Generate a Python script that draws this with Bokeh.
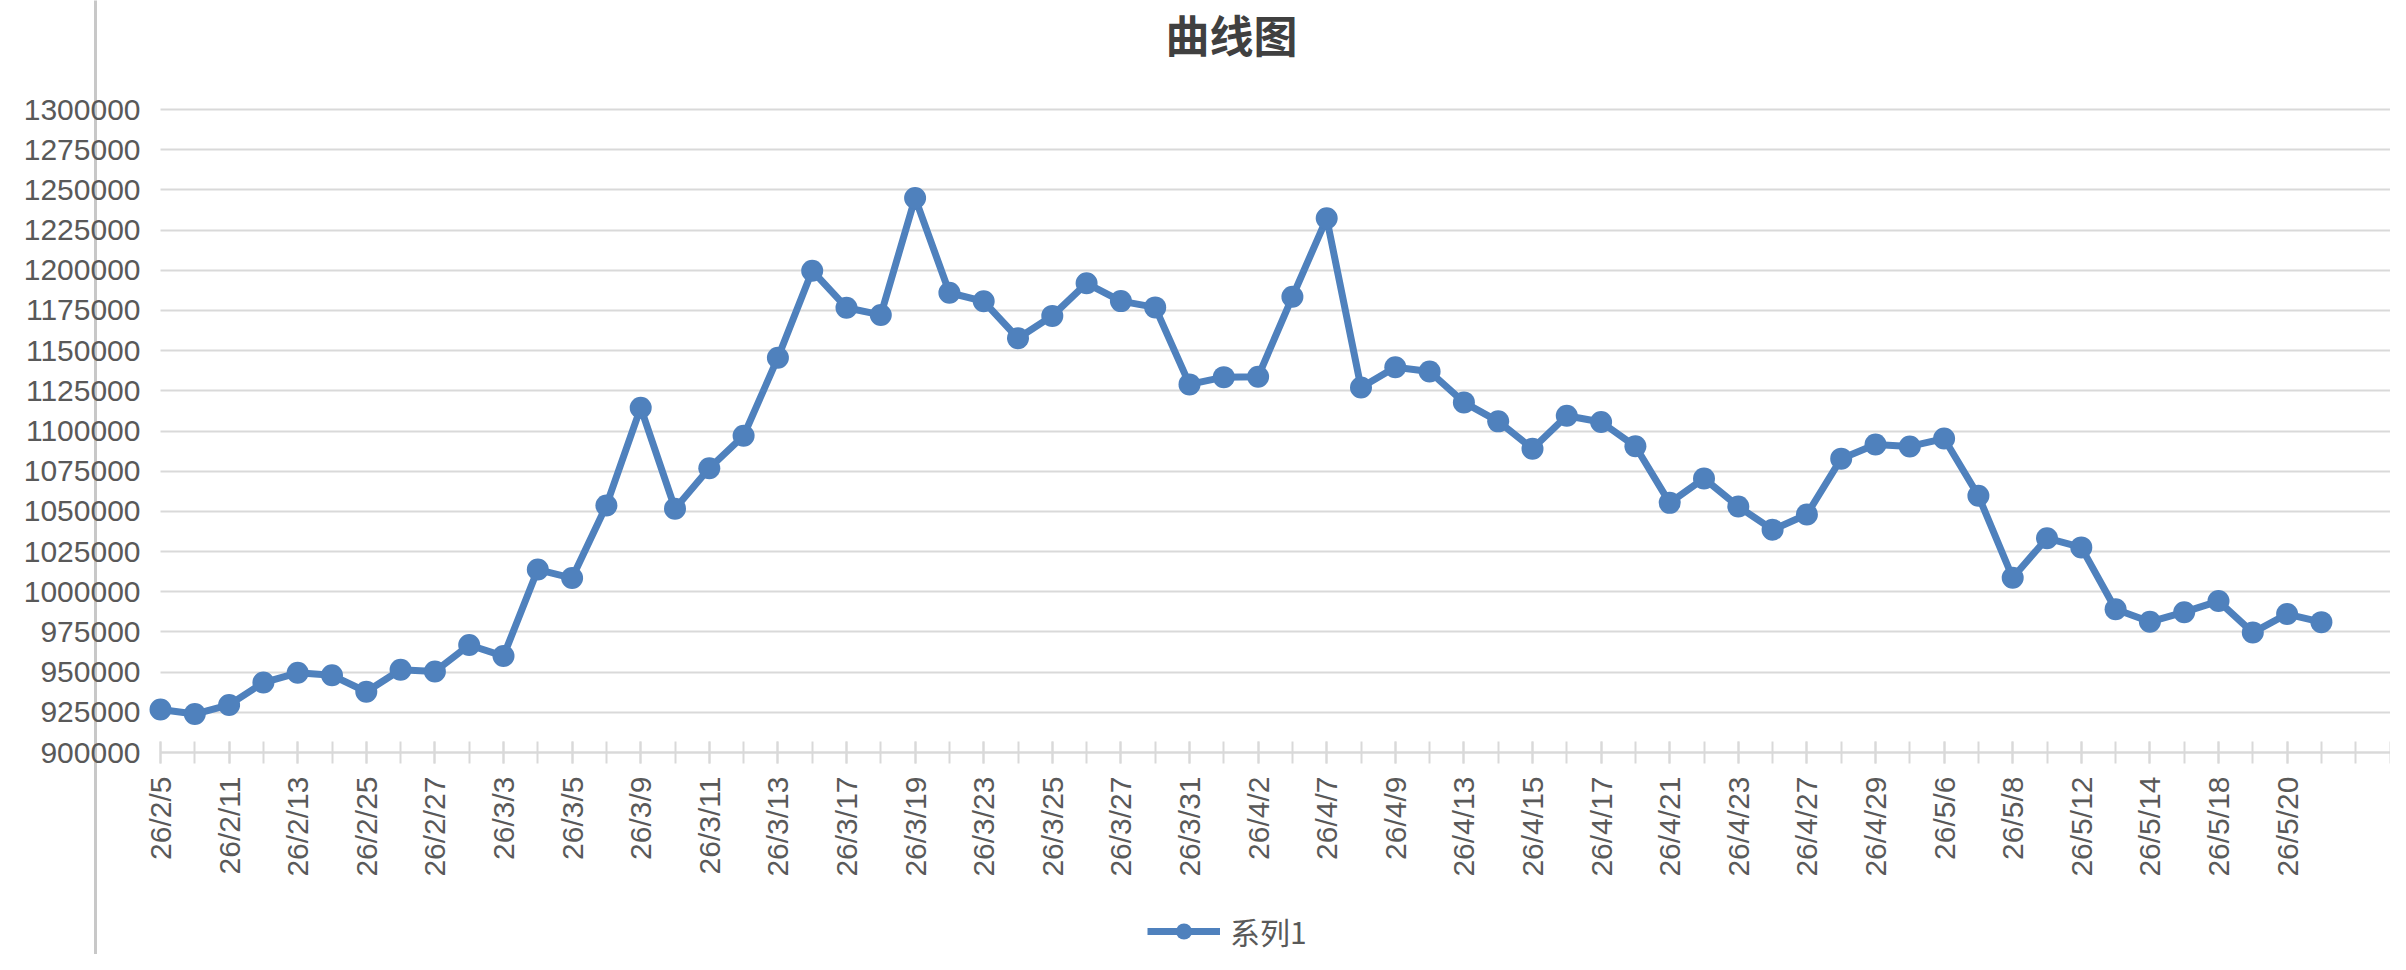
import math
from bokeh.plotting import figure
from bokeh.models import (FixedTicker, BasicTickFormatter, Legend, LegendItem,
                          ColumnDataSource, Label, Range1d, Grid)
from bokeh.embed import file_html
from bokeh.resources import INLINE

# ---------------- data ----------------
dates = [
    "26/2/5", "26/2/10", "26/2/11", "26/2/12", "26/2/13", "26/2/24", "26/2/25", "26/2/26",
    "26/2/27", "26/3/2", "26/3/3", "26/3/4", "26/3/5", "26/3/6", "26/3/9", "26/3/10",
    "26/3/11", "26/3/12", "26/3/13", "26/3/16", "26/3/17", "26/3/18", "26/3/19", "26/3/20",
    "26/3/23", "26/3/24", "26/3/25", "26/3/26", "26/3/27", "26/3/30", "26/3/31", "26/4/1",
    "26/4/2", "26/4/3", "26/4/7", "26/4/8", "26/4/9", "26/4/10", "26/4/13", "26/4/14",
    "26/4/15", "26/4/16", "26/4/17", "26/4/20", "26/4/21", "26/4/22", "26/4/23", "26/4/24",
    "26/4/27", "26/4/28", "26/4/29", "26/4/30", "26/5/6", "26/5/7", "26/5/8", "26/5/11",
    "26/5/12", "26/5/13", "26/5/14", "26/5/15", "26/5/18", "26/5/19", "26/5/20", "26/5/21",
]
values = [
    926800, 923900, 929600, 943500, 949600, 948000, 937800, 951500,
    950400, 966900, 960000, 1013800, 1008500, 1053700, 1114500, 1051700,
    1076800, 1097000, 1145600, 1199700, 1176700, 1172200, 1245000, 1186000,
    1180700, 1157700, 1171600, 1191900, 1180800, 1176900, 1129000, 1133500,
    1133800, 1183500, 1232300, 1127100, 1139600, 1137000, 1117800, 1106000,
    1089000, 1109500, 1105600, 1090500, 1055300, 1070500, 1053000, 1038600,
    1048100, 1082800, 1091600, 1090400, 1095300, 1059700, 1008700, 1033300,
    1027600, 989100, 981300, 987300, 994200, 974600, 986100, 981100,
]
series_name = "系列1"
title_text = "曲线图"
y_min, y_max, y_step = 900000, 1300000, 25000
y_ticks = list(range(y_min, y_max + 1, y_step))
n_slots = 65  # category slots on the axis

x = list(range(len(values)))
src = ColumnDataSource(dict(x=x, y=values, d=dates))

BLUE = "#4f81bd"
GRID = "#d9d9d9"
TXT = "#595959"
RULE = "#c8c8c8"
FONT = "Liberation Sans"

# ---------------- layout (pixels) ----------------
W, H = 2390, 954
frame_left = 95          # gray rule / frame edge
plot_left, plot_top, plot_bottom = 160, 109, 752
slot_px = 34.3
per_px = (y_max - y_min) / (plot_bottom - plot_top)

x_start = -(plot_left - frame_left) / slot_px
x_end = x_start + (W - frame_left) / slot_px
y_top = y_max + plot_top * per_px
y_bot = y_min - (H - plot_bottom) * per_px

p = figure(width=W, height=H, output_backend="svg", toolbar_location=None,
           x_range=Range1d(x_start, x_end), y_range=Range1d(y_bot, y_top),
           min_border=0, min_border_left=frame_left)
p.title = None
p.background_fill_color = "white"
p.border_fill_color = "white"
p.outline_line_color = None

# y axis: its line is the gray rule, labels pulled right across it
yax = p.yaxis[0]
yax.ticker = FixedTicker(ticks=y_ticks)
yax.formatter = BasicTickFormatter(use_scientific=False)
yax.axis_line_color = RULE
yax.axis_line_width = 3
yax.major_tick_line_color = None
yax.minor_tick_line_color = None
yax.major_tick_in = 0
yax.major_tick_out = 0
yax.minor_tick_in = 0
yax.minor_tick_out = 0
yax.major_label_text_font = FONT
yax.major_label_text_font_size = "30px"
yax.major_label_text_color = TXT
yax.major_label_standoff = -45

yg = p.ygrid[0]
yg.ticker = FixedTicker(ticks=y_ticks)
yg.grid_line_color = GRID
yg.grid_line_width = 2
if "cross_bounds" in Grid.properties():
    yg.cross_bounds = (0, x_end)
p.xgrid.grid_line_color = None

# x axis, fixed at the bottom of the value range
xax = p.xaxis[0]
xax.fixed_location = y_min
xax.bounds = (0, x_end)
major = list(range(0, len(values), 2))
xax.ticker = FixedTicker(ticks=major, minor_ticks=list(range(0, n_slots + 1)))
xax.major_label_overrides = {i: dates[i] for i in major}
xax.major_label_orientation = math.pi / 2
xax.major_label_text_font = FONT
xax.major_label_text_font_size = "30px"
xax.major_label_text_color = TXT
xax.major_label_standoff = 13
xax.axis_line_color = GRID
xax.axis_line_width = 2
xax.major_tick_line_color = GRID
xax.major_tick_line_width = 2
xax.major_tick_in = 11
xax.major_tick_out = 11
xax.minor_tick_line_color = GRID
xax.minor_tick_line_width = 2
xax.minor_tick_in = 11
xax.minor_tick_out = 11

# series
ln = p.line("x", "y", source=src, line_color=BLUE, line_width=7, line_join="round")
sc = p.scatter("x", "y", source=src, size=22, fill_color=BLUE, line_color=None)

# title
p.add_layout(Label(x=1231 - frame_left, y=H - 33, x_units="screen", y_units="screen",
                   text=title_text, text_align="center", text_baseline="middle",
                   text_font="Noto Sans CJK SC", text_font_size="44px",
                   text_font_style="bold", text_color="#404040"))

legend = Legend(items=[LegendItem(label=series_name, renderers=[ln, sc])],
                location=(1147 - frame_left, 1), orientation="horizontal",
                glyph_width=73, glyph_height=40, label_standoff=10,
                label_text_font="Noto Sans CJK SC", label_text_font_size="30px",
                label_text_color=TXT, border_line_color=None,
                background_fill_alpha=0, padding=0, margin=0)
p.add_layout(legend, "center")

open("out.html", "w").write(file_html(p, INLINE))
